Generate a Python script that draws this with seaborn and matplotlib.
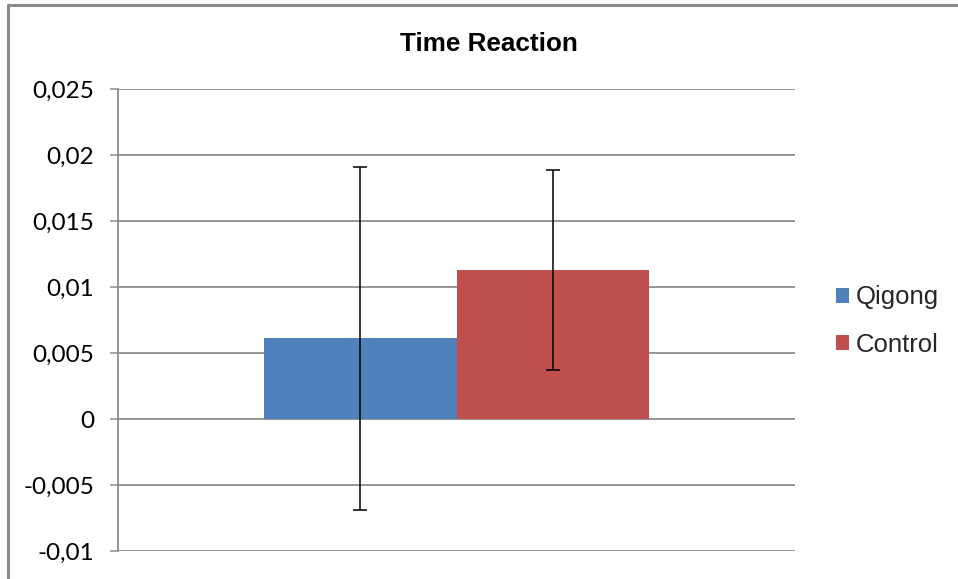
import matplotlib
matplotlib.use("Agg")
import matplotlib.pyplot as plt
from matplotlib.lines import Line2D
from matplotlib.patches import Patch
from matplotlib.ticker import FuncFormatter
import seaborn as sns
import pandas as pd

# ---- data ----
category = ["Time Reaction"]
groups = ["Qigong", "Control"]
means = [0.0061, 0.0113]
errors = [0.0130, 0.0076]
colors = ["#4F81BD", "#C0504D"]
y_ticks = [-0.01, -0.005, 0, 0.005, 0.01, 0.015, 0.02, 0.025]

df = pd.DataFrame({"cat": category * len(groups), "group": groups, "value": means})

sns.set_theme(style="white")
fig = plt.figure(figsize=(9.58, 5.79), dpi=100)
ax = fig.add_axes([118/958, 1-551/579, (795-118)/958, (551-89)/579])

sns.barplot(data=df, x="cat", y="value", hue="group", hue_order=groups,
            palette=colors, width=0.57, errorbar=None, saturation=1,
            ax=ax, legend=False, edgecolor="none", linewidth=0)

# error bars at bar centres
for patch, m, e in zip(ax.patches, means, errors):
    cx = patch.get_x() + patch.get_width() / 2
    ax.errorbar(cx, m, yerr=e, fmt="none", ecolor="black", elinewidth=1.1,
                capsize=5, capthick=1.1, zorder=5)

ax.set_xlim(-0.5, 0.5)
ax.set_ylim(-0.01, 0.025)
ax.set_yticks(y_ticks)
ax.yaxis.set_major_formatter(FuncFormatter(
    lambda v, p: "0" if abs(v) < 1e-12 else f"{v:g}".replace(".", ",")))
ax.set_xticks([])
ax.set_xlabel("")
ax.set_ylabel("")

ax.grid(axis="y", color="#8c8c8c", linewidth=1.3)
ax.set_axisbelow(True)
for s in ["top", "right", "bottom"]:
    ax.spines[s].set_visible(False)
ax.spines["left"].set_color("#8c8c8c")
ax.spines["left"].set_linewidth(1.3)
ax.tick_params(axis="y", which="major", left=True, length=6, width=1.1,
               color="#8c8c8c", pad=11, labelsize=17.5, labelcolor="black")
for lab in ax.get_yticklabels():
    lab.set_fontfamily("Lato")

# title
fig.text(489/958, 1-44/579, "Time Reaction", ha="center", va="center",
         fontsize=18.8, fontweight="bold", family="Liberation Sans", color="black")

# legend
handles = [Patch(facecolor=c, edgecolor="none") for c in colors]
leg = fig.legend(handles, groups, loc="center left",
                 bbox_to_anchor=(836/958, 1-321/579), frameon=False,
                 prop={"family": "Liberation Sans", "size": 18.5},
                 handlelength=0.5, handleheight=0.5, handletextpad=0.25,
                 labelspacing=0.9, borderaxespad=0, borderpad=0)

# outer frame (cropped chart border)
fig.add_artist(Line2D([8/958, 1], [1-5/579, 1-5/579], color="#8a8a8a", linewidth=2.2,
                      transform=fig.transFigure))
fig.add_artist(Line2D([8/958, 8/958], [0, 1-5/579], color="#8a8a8a", linewidth=2.2,
                      transform=fig.transFigure))

fig.savefig("out.png", dpi=100, facecolor="white")
